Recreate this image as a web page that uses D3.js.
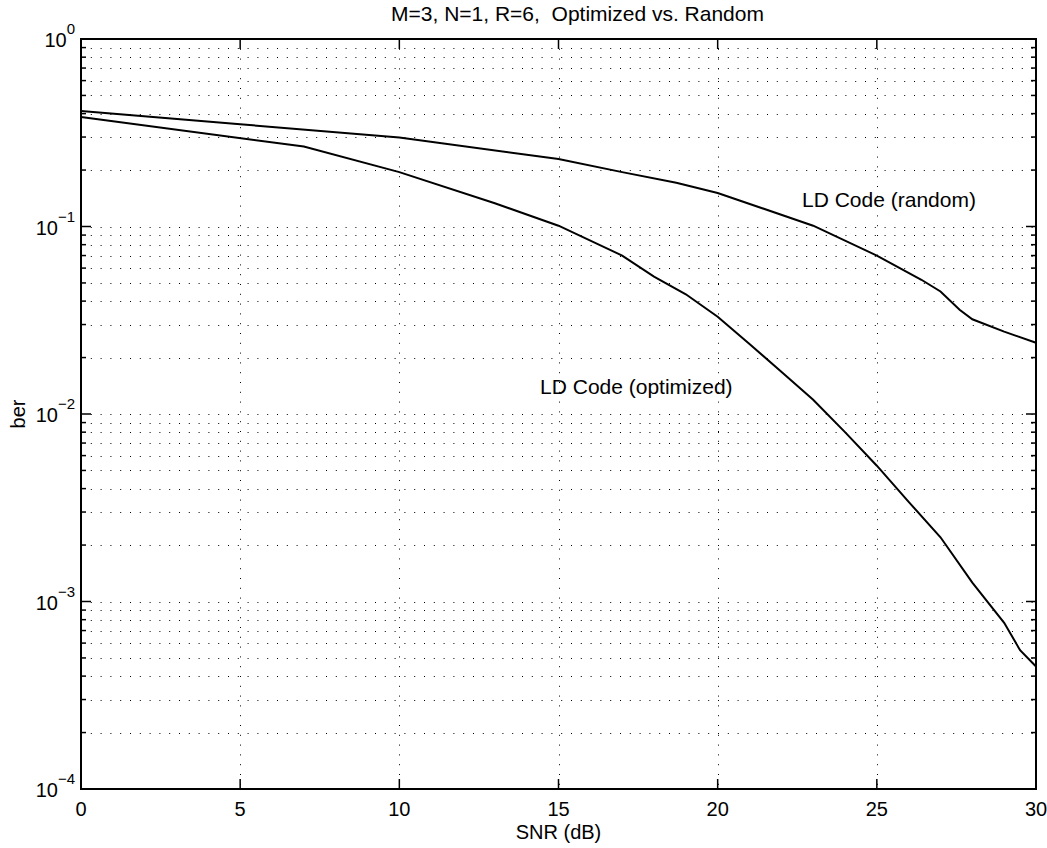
<!DOCTYPE html>
<html>
<head>
<meta charset="utf-8">
<script src="https://cdn.jsdelivr.net/npm/d3@7/dist/d3.min.js"></script>
<style>
  body { margin: 0; background: #fff; }
  text { font-family: "Liberation Sans", Arial, Helvetica, sans-serif; fill: #000; }
</style>
</head>
<body>
<div id="chart"></div>
<script>
// curva LD Code (optimized)
const snrOpt = [0, 7, 10, 13, 15, 17, 18, 19, 20, 21, 22, 23, 24, 25, 26, 27, 28, 29, 29.5, 30];
const berOpt = [0.384, 0.267, 0.195, 0.133, 0.101, 0.070, 0.054, 0.0435, 0.033, 0.0236, 0.0168, 0.0119,
                0.0080, 0.0053, 0.0034, 0.0022, 0.00126, 0.00077, 0.00055, 0.00045];

// curva LD Code (random)
const snrRand = [0, 5, 10, 15, 17, 18.7, 20, 23, 25, 26.4, 27, 27.6, 28, 29, 30];
const berRand = [0.413, 0.351, 0.298, 0.229, 0.195, 0.171, 0.151, 0.101, 0.070, 0.052, 0.045, 0.036,
                 0.032, 0.0275, 0.024];

const xTicks = [0, 5, 10, 15, 20, 25, 30];
const yExps = [-4, -3, -2, -1, 0];

const labelText = ["LD Code (random)", "LD Code (optimized)"];
const labelSnr = [22.65, 14.42];
const labelBer = [0.127, 0.0128];

const titleText = "M=3, N=1, R=6,  Optimized vs. Random";

const width = 1047, height = 848;
const margin = { top: 39, right: 11, bottom: 59, left: 81 };

const svg = d3.select("#chart").append("svg")
    .attr("width", width)
    .attr("height", height);

const x = d3.scaleLinear().domain([0, 30]).range([margin.left, width - margin.right]);
const y = d3.scaleLog().domain([1e-4, 1]).range([height - margin.bottom, margin.top]);

// posiciones menores del eje log (2..9 en cada década)
const minorVals = [];
yExps.slice(0, -1).forEach(e => {
    for (let k = 2; k <= 9; k++) minorVals.push(k * Math.pow(10, e));
});
const majorVals = yExps.map(e => Math.pow(10, e));

const gridDash = "1,8.8";
const grid = svg.append("g");

// rejilla horizontal (mayor y menor)
grid.selectAll(".hgrid")
    .data(majorVals.concat(minorVals))
    .enter().append("line")
    .attr("x1", x(0)).attr("x2", x(30))
    .attr("y1", d => Math.round(y(d)) + 0.5).attr("y2", d => Math.round(y(d)) + 0.5)
    .attr("stroke", "#000").attr("stroke-width", 1)
    .attr("stroke-dasharray", gridDash);

// rejilla vertical
grid.selectAll(".vgrid")
    .data(xTicks)
    .enter().append("line")
    .attr("x1", d => Math.round(x(d)) + 0.5).attr("x2", d => Math.round(x(d)) + 0.5)
    .attr("y1", y(1)).attr("y2", y(1e-4))
    .attr("stroke", "#000").attr("stroke-width", 1)
    .attr("stroke-dasharray", gridDash);

// ticks (hacia dentro, en los cuatro lados)
const ticks = svg.append("g").attr("stroke", "#000").attr("stroke-width", 1.5);
xTicks.forEach(d => {
    ticks.append("line").attr("x1", x(d)).attr("x2", x(d)).attr("y1", y(1e-4)).attr("y2", y(1e-4) - 10);
    ticks.append("line").attr("x1", x(d)).attr("x2", x(d)).attr("y1", y(1)).attr("y2", y(1) + 10);
});
majorVals.forEach(d => {
    ticks.append("line").attr("x1", x(0)).attr("x2", x(0) + 10).attr("y1", y(d)).attr("y2", y(d));
    ticks.append("line").attr("x1", x(30)).attr("x2", x(30) - 10).attr("y1", y(d)).attr("y2", y(d));
});
minorVals.forEach(d => {
    ticks.append("line").attr("x1", x(0)).attr("x2", x(0) + 5).attr("y1", y(d)).attr("y2", y(d));
    ticks.append("line").attr("x1", x(30)).attr("x2", x(30) - 5).attr("y1", y(d)).attr("y2", y(d));
});

// curvas
const line = d3.line()
    .x(d => x(d[0]))
    .y(d => y(d[1]));

const curves = [d3.zip(snrRand, berRand), d3.zip(snrOpt, berOpt)];
svg.selectAll(".curve")
    .data(curves)
    .enter().append("path")
    .attr("class", "curve")
    .attr("d", line)
    .attr("fill", "none")
    .attr("stroke", "#000")
    .attr("stroke-width", 2);

// marco de los ejes
svg.append("rect")
    .attr("x", x(0)).attr("y", y(1))
    .attr("width", x(30) - x(0)).attr("height", y(1e-4) - y(1))
    .attr("fill", "none").attr("stroke", "#000").attr("stroke-width", 2);

// etiquetas eje x
svg.selectAll(".xlab")
    .data(xTicks)
    .enter().append("text")
    .attr("x", d => x(d))
    .attr("y", y(1e-4) + 27)
    .attr("text-anchor", "middle")
    .style("font-size", "20px")
    .text(d => d);

// etiquetas eje y: 10^e
const ylab = svg.selectAll(".ylab")
    .data(yExps)
    .enter().append("text")
    .attr("x", x(0) - 6)
    .attr("y", d => y(Math.pow(10, d)) + 8)
    .attr("text-anchor", "end")
    .style("font-size", "20px");
ylab.append("tspan").text("10");
ylab.append("tspan")
    .attr("dy", -13)
    .style("font-size", "15px")
    .text(d => d < 0 ? "\u2212" + (-d) : d);

// título y nombres de ejes
svg.append("text")
    .attr("x", (x(0) + x(30)) / 2 + 19)
    .attr("y", 21)
    .attr("text-anchor", "middle")
    .style("font-size", "21px")
    .style("white-space", "pre")
    .text(titleText);

svg.append("text")
    .attr("x", (x(0) + x(30)) / 2)
    .attr("y", y(1e-4) + 50)
    .attr("text-anchor", "middle")
    .style("font-size", "20px")
    .text("SNR (dB)");

svg.append("text")
    .attr("transform", `translate(25,${y(1e-2)}) rotate(-90)`)
    .attr("text-anchor", "middle")
    .style("font-size", "20px")
    .text("ber");

// anotaciones de las curvas
svg.selectAll(".ann")
    .data(labelText)
    .enter().append("text")
    .attr("x", (d, i) => x(labelSnr[i]))
    .attr("y", (d, i) => y(labelBer[i]))
    .style("font-size", "21px")
    .text(d => d);
</script>
</body>
</html>
